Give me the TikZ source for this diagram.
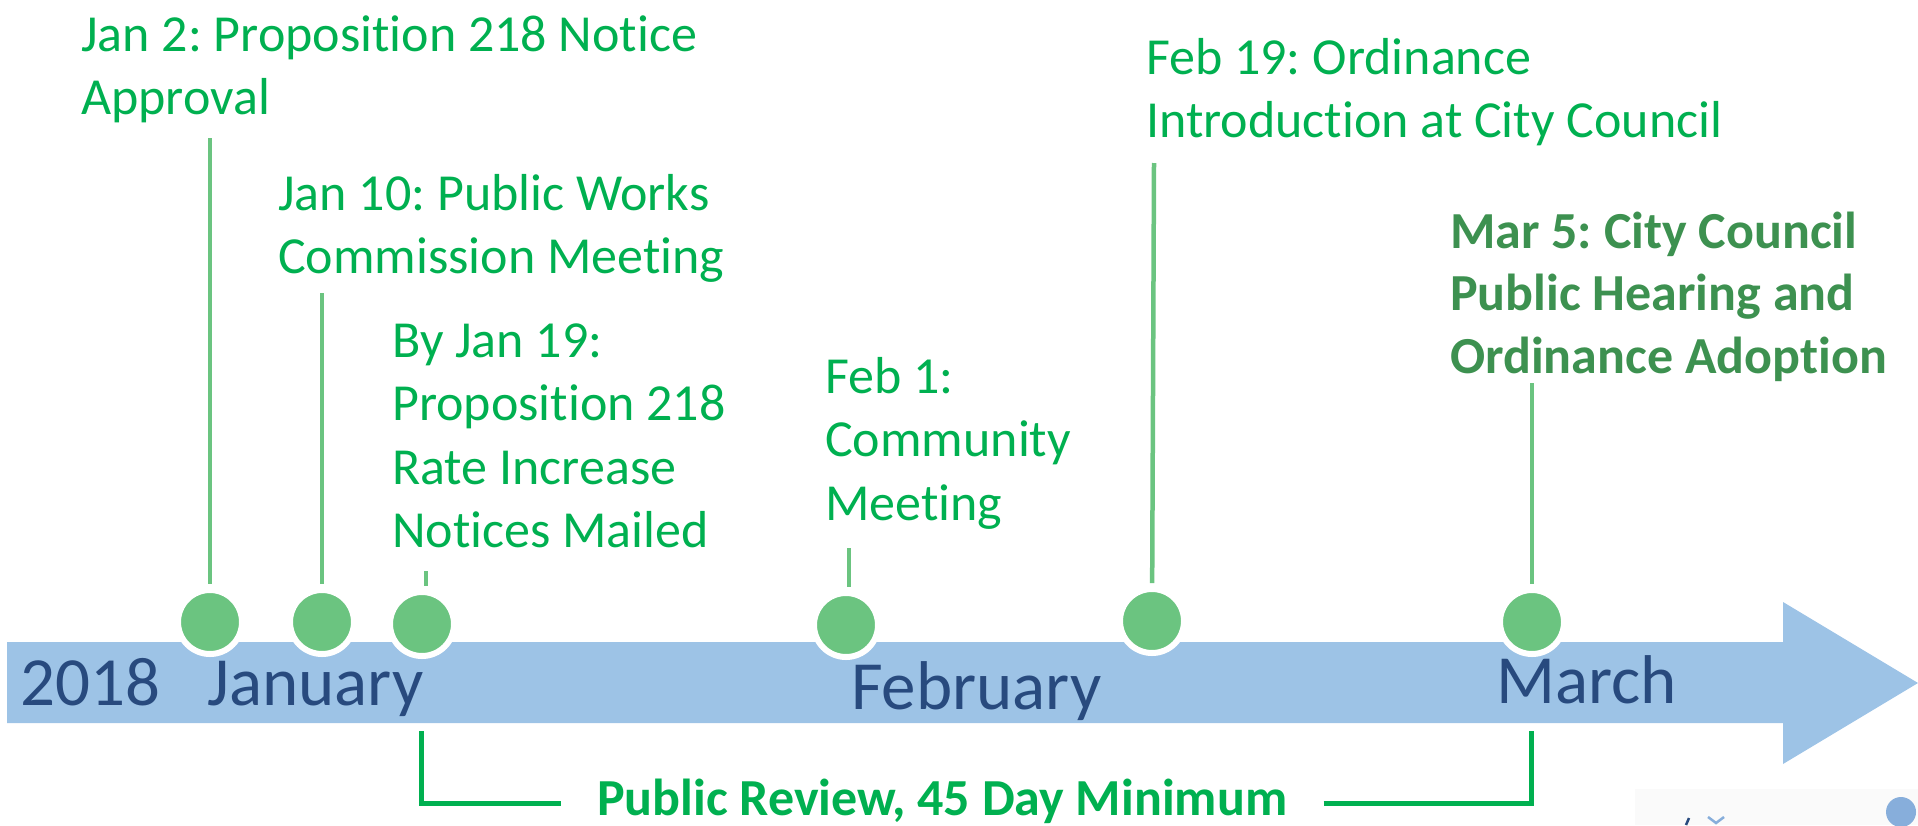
\documentclass[tikz,border=0pt]{standalone}
\usepackage{fontspec}
\setmainfont{Carlito}[RawFeature=-liga]
\definecolor{evt}{HTML}{00B050}
\definecolor{dot}{HTML}{6BC480}
\definecolor{barc}{HTML}{9DC3E6}
\definecolor{month}{HTML}{284A7E}
\definecolor{keyev}{HTML}{3D9150}
\definecolor{logob}{HTML}{87AEDB}
\newcommand{\stk}[1]{\begin{tabular}[t]{@{}l@{}}#1\end{tabular}}
\frenchspacing
\begin{document}
\begin{tikzpicture}[x=1pt,y=-1pt,
  evtxt/.style={anchor=base west, inner sep=0pt, text=evt, font=\fontsize{52}{63.5}\selectfont},
  keytxt/.style={anchor=base west, inner sep=0pt, text=keyev, font=\fontsize{52}{62.5}\selectfont\bfseries},
  mon/.style={anchor=base west, inner sep=0pt, text=month, font=\fontsize{69}{80}\selectfont},
  dotc/.style={circle, fill=dot, draw=white, line width=6pt, minimum size=64pt, inner sep=0pt},
  stem/.style={draw=dot, line width=4.5pt, shorten >=3pt},
  bracket/.style={draw=evt, line width=5pt},
]
\useasboundingbox (0,0) rectangle (1918,825);
\clip (0,0) rectangle (1918,825);

% timeline arrow
\fill[barc] (7,642) -- (1783,642) -- (1783,602) -- (1918,683) -- (1783,764) -- (1783,723) -- (7,723) -- cycle;

% months
\node[mon] (y18) at (20,705) {2018};
\node[mon] (jan) at (207,705) {January};
\node[mon] (feb) at (851,709) {February};
\node[mon] (mar) at (1496,703) {March};

% event labels
\node[evtxt] (e1) at (81,51) {\stk{Jan 2: Proposition 218 Notice\\Approval}};
\node[evtxt] (e2) at (278,210) {\stk{Jan 10: Public Works\\Commission Meeting}};
\node[evtxt] (e3) at (392,357) {\stk{By Jan 19:\\Proposition 218\\Rate Increase\\Notices Mailed}};
\node[evtxt] (e4) at (825,393) {\stk{Feb 1:\\Community\\Meeting}};
\node[evtxt] (e5) at (1146,74) {\stk{Feb 19: Ordinance\\Introduction at City Council}};
\node[keytxt] (e6) at (1450,248) {\stk{Mar 5: City Council\\Public Hearing and\\Ordinance Adoption}};

% dots
\node[dotc] (c1) at (210,622) {};
\node[dotc] (c2) at (322,622) {};
\node[dotc] (c3) at (422,624) {};
\node[dotc] (c4) at (846,625) {};
\node[dotc] (c5) at (1152,621) {};
\node[dotc] (c6) at (1532,622) {};

% stems
\coordinate (t1) at (210,138);
\coordinate (t2) at (322,293);
\coordinate (t3) at (426,571);
\coordinate (t4) at (849,548);
\coordinate (t5) at (1154,163);
\coordinate (t6) at (1532,383);
\draw[stem] (t1) -- (c1);
\draw[stem] (t2) -- (c2);
\draw[stem] (t3) -- (t3 |- c3.north);
\draw[stem] (t4) -- (t4 |- c4.north);
\draw[stem] (t5) -- (c5);
\draw[stem] (t6) -- (c6);

% public review bracket
\node[anchor=base west, inner xsep=36pt, inner ysep=0pt, text=evt,
      font=\fontsize{52}{62}\selectfont\bfseries] (pr) at (561,815) {Public Review, 45 Day Minimum};
\coordinate (bl) at (421,731);
\coordinate (bll) at (421,803);
\coordinate (br) at (1531,731);
\coordinate (brl) at (1531,803);
\draw[bracket] (bl) -- (bll) -- (bll -| pr.west);
\draw[bracket] (pr.east |- brl) -- (brl) -- (br);

% cropped logo fragment at bottom right
\fill[black!2] (1635,789) rectangle (1918,825);
\draw[logob, line width=2.5pt] (1708,817) -- (1716,823) -- (1724,817);
\draw[month, line width=2.5pt] (1686,825) -- (1689,818);
\fill[logob] (1901,812) circle (15);
\end{tikzpicture}
\end{document}
